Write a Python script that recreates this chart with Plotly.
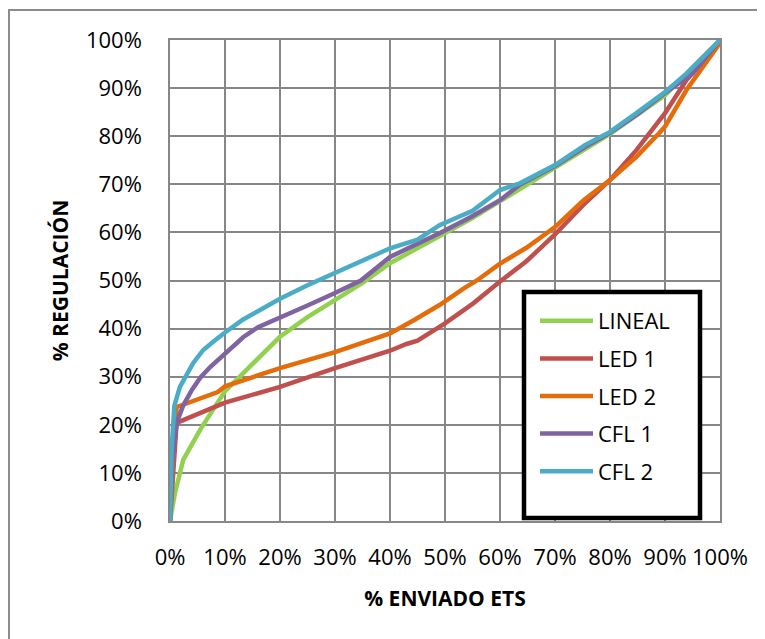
import plotly.graph_objects as go

# ---- data (x = % ENVIADO ETS, y = % REGULACIÓN) ----
lineal_x = [0, 0.9, 2.4, 5.5, 10, 13.3, 16, 20, 25, 30, 35, 40, 47, 50, 55, 60, 65, 70, 80, 90, 100]
lineal_y = [0, 5.8, 12.7, 19, 27, 30.8, 34, 38.3, 42.4, 46, 49.5, 53.6, 58, 60, 63, 66.5, 69.9, 73.5, 80.5, 88.5, 100]

led1_x = [0, 0.5, 1.2, 10, 20, 30, 40, 43, 45, 50, 55.2, 60, 63.6, 64.8, 70, 75.5, 80, 84.8, 90, 93.9, 100]
led1_y = [0, 10, 20.4, 24.6, 27.9, 31.8, 35.4, 36.8, 37.5, 41.1, 45.3, 49.8, 52.8, 54, 59.6, 66.1, 70.9, 77.1, 84.8, 91.7, 99.6]

led2_x = [0, 0.5, 1.2, 5, 8.7, 10, 20, 30, 40, 44.4, 49, 53.5, 55.8, 60, 64.8, 70, 75.2, 80, 84.8, 89, 90, 93.9, 100]
led2_y = [0, 12, 23.7, 25.3, 26.8, 28, 31.8, 35.1, 39, 41.8, 44.9, 48.4, 50, 53.5, 56.8, 61.1, 66.7, 70.9, 75.7, 80.7, 82, 89.6, 99.4]

cfl1_x = [0, 0.4, 1.2, 2.4, 4, 5.5, 7.3, 10, 13.3, 16, 20, 25, 30, 34.7, 40, 45, 49, 54.7, 60, 63.6, 70, 75.5, 80, 85, 90, 95, 100]
cfl1_y = [0, 12, 20.4, 24, 27.3, 29.8, 32, 34.8, 38.2, 40.3, 42.2, 44.8, 47.4, 50, 54.9, 57.5, 59.8, 63.2, 66.7, 69.9, 73.8, 77.8, 80.7, 84.6, 89, 93, 100]

cfl2_x = [0, 0.3, 0.8, 1.8, 4.2, 6, 7.8, 10, 13.3, 16.4, 20, 25, 30, 35, 40, 45, 49, 55, 60, 63.6, 70, 75.5, 80, 84.8, 90, 93.9, 100]
cfl2_y = [0, 15, 24, 27.9, 32.8, 35.5, 37.2, 39.2, 41.9, 44, 46.2, 49, 51.6, 54, 56.7, 58.5, 61.5, 64.5, 68.8, 70.2, 74, 78.2, 80.9, 84.8, 89.2, 93, 100]

series = [
    ("LINEAL", lineal_x, lineal_y, "#92D050"),
    ("LED 1", led1_x, led1_y, "#C0504D"),
    ("LED 2", led2_x, led2_y, "#E46C0A"),
    ("CFL 1", cfl1_x, cfl1_y, "#8064A2"),
    ("CFL 2", cfl2_x, cfl2_y, "#4BACC6"),
]
tick_vals = [0, 10, 20, 30, 40, 50, 60, 70, 80, 90, 100]
tick_text = [f"{v}%" for v in tick_vals]

FONT = "Open Sans"
fig = go.Figure()
for name, xs, ys, col in series:
    fig.add_trace(go.Scatter(x=xs, y=ys, mode="lines", name=name, legendgroup=name,
                             line=dict(color=col, width=4.5)))

grid = "#878787"
axis_common = dict(range=[0, 100], tickvals=tick_vals, ticktext=tick_text,
                   showgrid=True, gridcolor=grid, gridwidth=1.5,
                   showline=True, linecolor=grid, linewidth=1.5, mirror=True,
                   zeroline=False, ticks="", tickfont=dict(family=FONT, size=22, color="#000"))
fig.update_xaxes(**axis_common, ticklabelstandoff=16,
                 title=dict(text="<b>% ENVIADO ETS</b>", font=dict(family=FONT, size=21, color="#000"), standoff=21))
fig.update_yaxes(**axis_common, ticklabelstandoff=22,
                 title=dict(text="<b>% REGULACIÓN</b>", font=dict(family=FONT, size=21, color="#000"), standoff=12))

# helpers: reference-pixel -> paper coordinates (plot area 170..720 x, 40..521 y)
def px_x(p):
    return (p - 170) / 550.0
def px_y(p):
    return (521 - p) / 481.0

fig.add_shape(type="rect", xref="paper", yref="paper",
              x0=px_x(524), x1=px_x(700), y0=px_y(518), y1=px_y(292),
              line=dict(color="black", width=4.5), fillcolor="white", layer="above")
fig.add_shape(type="rect", xref="paper", yref="paper",
              x0=px_x(9), x1=px_x(780), y0=px_y(660), y1=px_y(10),
              line=dict(color="#8C8C8C", width=2), fillcolor="rgba(0,0,0,0)", layer="below")

fig.update_layout(
    width=757, height=631,
    margin=dict(l=162, r=45, t=32, b=118, autoexpand=False),
    paper_bgcolor="white", plot_bgcolor="white",
    showlegend=True,
    legend=dict(x=px_x(535), y=px_y(300), xanchor="left", yanchor="top",
                bgcolor="rgba(0,0,0,0)", borderwidth=0,
                font=dict(family=FONT, size=22, color="#000"),
                tracegroupgap=6, itemwidth=53),
)
fig.write_html("out.html")
